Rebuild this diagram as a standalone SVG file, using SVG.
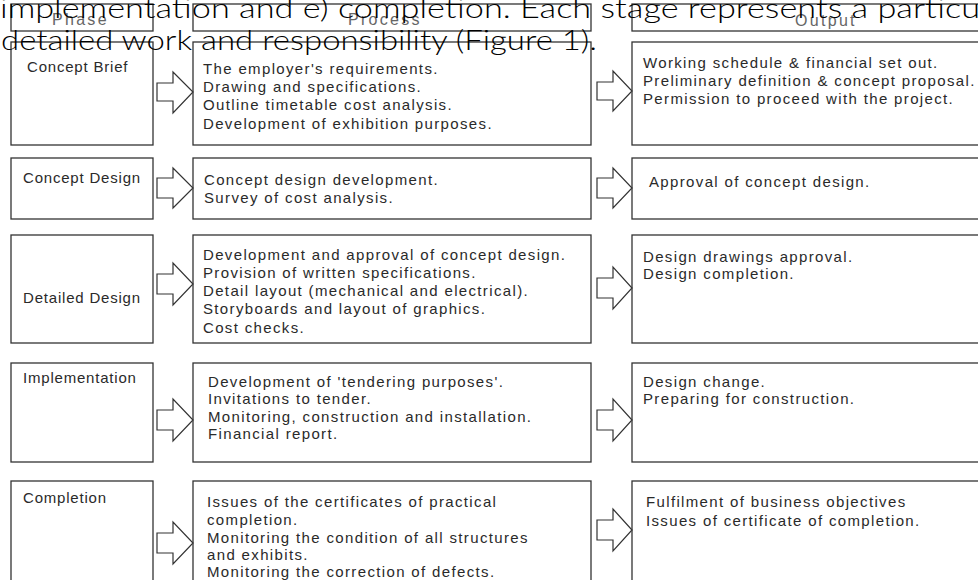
<svg xmlns="http://www.w3.org/2000/svg" width="978" height="580" viewBox="0 0 978 580">
<style>
.box{fill:#fff;stroke:#333;stroke-width:1.3}
.arr{fill:#fff;stroke:#333;stroke-width:1.2;stroke-linejoin:miter}
.hd{font-family:"Liberation Sans",Arial,sans-serif;font-size:16px;letter-spacing:2.3px;fill:#666}
.ph{font-family:"Liberation Sans",Arial,sans-serif;font-size:15px;letter-spacing:0.8px;fill:#2a2a2a}
.tx{font-family:"Liberation Sans",Arial,sans-serif;font-size:15px;letter-spacing:1.35px;fill:#2a2a2a}
.ov{font-family:Lato,"Liberation Sans",sans-serif;font-weight:300;font-size:27px;fill:#000}
</style>
<rect width="978" height="580" fill="#fff"/>
<g id="header-phase"><rect class="box" x="11" y="4" width="142" height="27"/><text class="hd" x="52" y="25">Phase</text></g>
<g id="header-process"><rect class="box" x="193" y="4" width="398" height="27"/><text class="hd" x="348" y="25">Process</text></g>
<g id="header-output"><rect class="box" x="632" y="4" width="360" height="27"/><text class="hd" x="795" y="26">Output</text></g>

<g id="phase-concept-brief"><rect class="box" x="11" y="42" width="142" height="103"/><text class="ph" x="27" y="72">Concept Brief</text></g>
<g id="process-concept-brief"><rect class="box" x="193" y="42" width="398" height="103"/>
<text class="tx" x="203" y="74">The employer's requirements.</text>
<text class="tx" x="203" y="92">Drawing and specifications.</text>
<text class="tx" x="203" y="110">Outline timetable cost analysis.</text>
<text class="tx" x="203" y="129">Development of exhibition purposes.</text></g>
<g id="output-concept-brief"><rect class="box" x="632" y="42" width="360" height="103"/>
<text class="tx" x="643" y="68">Working schedule &amp; financial set out.</text>
<text class="tx" x="643" y="86">Preliminary definition &amp; concept proposal.</text>
<text class="tx" x="643" y="104">Permission to proceed with the project.</text></g>

<g id="phase-concept-design"><rect class="box" x="11" y="158" width="142" height="61"/><text class="ph" x="23" y="183">Concept Design</text></g>
<g id="process-concept-design"><rect class="box" x="193" y="158" width="398" height="61"/>
<text class="tx" x="204" y="185">Concept design development.</text>
<text class="tx" x="204" y="203">Survey of cost analysis.</text></g>
<g id="output-concept-design"><rect class="box" x="632" y="158" width="360" height="61"/>
<text class="tx" x="649" y="187">Approval of concept design.</text></g>

<g id="phase-detailed-design"><rect class="box" x="11" y="235" width="142" height="108"/><text class="ph" x="23" y="303">Detailed Design</text></g>
<g id="process-detailed-design"><rect class="box" x="193" y="235" width="398" height="108"/>
<text class="tx" x="203" y="260">Development and approval of concept design.</text>
<text class="tx" x="203" y="278">Provision of written specifications.</text>
<text class="tx" x="203" y="296">Detail layout (mechanical and electrical).</text>
<text class="tx" x="203" y="314">Storyboards and layout of graphics.</text>
<text class="tx" x="203" y="333">Cost checks.</text></g>
<g id="output-detailed-design"><rect class="box" x="632" y="235" width="360" height="108"/>
<text class="tx" x="643" y="262">Design drawings approval.</text>
<text class="tx" x="643" y="279">Design completion.</text></g>

<g id="phase-implementation"><rect class="box" x="11" y="363" width="142" height="99"/><text class="ph" x="23" y="383">Implementation</text></g>
<g id="process-implementation"><rect class="box" x="193" y="363" width="398" height="99"/>
<text class="tx" x="208" y="387">Development of 'tendering purposes'.</text>
<text class="tx" x="208" y="404">Invitations to tender.</text>
<text class="tx" x="208" y="422">Monitoring, construction and installation.</text>
<text class="tx" x="208" y="439">Financial report.</text></g>
<g id="output-implementation"><rect class="box" x="632" y="363" width="360" height="99"/>
<text class="tx" x="643" y="387">Design change.</text>
<text class="tx" x="643" y="404">Preparing for construction.</text></g>

<g id="phase-completion"><rect class="box" x="11" y="481" width="142" height="110"/><text class="ph" x="23" y="503">Completion</text></g>
<g id="process-completion"><rect class="box" x="193" y="481" width="398" height="110"/>
<text class="tx" x="207" y="507">Issues of the certificates of practical</text>
<text class="tx" x="207" y="525">completion.</text>
<text class="tx" x="207" y="543">Monitoring the condition of all structures</text>
<text class="tx" x="207" y="560">and exhibits.</text>
<text class="tx" x="207" y="577">Monitoring the correction of defects.</text></g>
<g id="output-completion"><rect class="box" x="632" y="481" width="360" height="110"/>
<text class="tx" x="646" y="507">Fulfilment of business objectives</text>
<text class="tx" x="646" y="526">Issues of certificate of completion.</text></g>

<g id="connectors">
<path class="arr" d="M157,83H173V72L193,92L173,113V101H157Z"/>
<path class="arr" d="M597,82H613V71L632,91L613,111V100H597Z"/>
<path class="arr" d="M157,178H173V168L193,188L173,208V198H157Z"/>
<path class="arr" d="M597,178H613V168L632,188L613,208V198H597Z"/>
<path class="arr" d="M157,274H173V263L193,284L173,305V294H157Z"/>
<path class="arr" d="M597,278H613V267L632,288L613,309V298H597Z"/>
<path class="arr" d="M157,410H173V399L193,420L173,441V430H157Z"/>
<path class="arr" d="M597,410H613V399L632,420L613,441V430H597Z"/>
<path class="arr" d="M157,533H173V522L193,543L173,564V553H157Z"/>
<path class="arr" d="M597,520H613V509L632,530L613,551V540H597Z"/>
</g>

<g id="overlay-text">
<text class="ov" x="0" y="18" textLength="980" lengthAdjust="spacingAndGlyphs">implementation and e) completion. Each stage represents a particu</text>
<text class="ov" x="1" y="50" textLength="596" lengthAdjust="spacingAndGlyphs">detailed work and responsibility (Figure 1).</text>
</g>
</svg>
